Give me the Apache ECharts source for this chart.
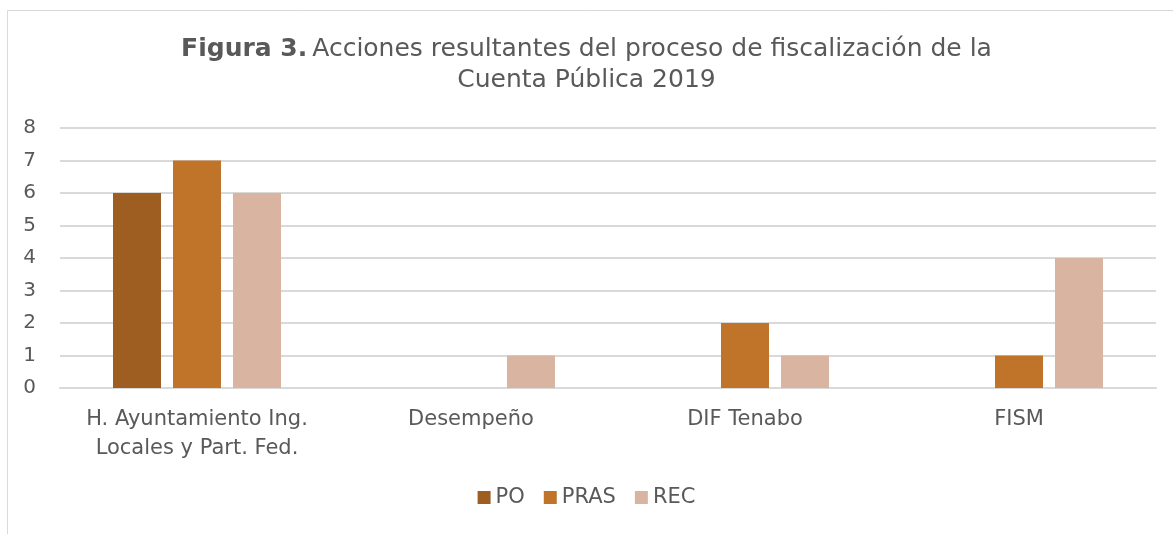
<!DOCTYPE html>
<html>
<head>
<meta charset="utf-8">
<script src="https://cdn.jsdelivr.net/npm/echarts@6/dist/echarts.min.js"></script>
<style>
    html, body { margin: 0; padding: 0; background: #fff; }
    #chart { width: 1173px; height: 534px; }
</style>
</head>
<body>
<div id="chart"></div>
<script>
    // categorías y valores
    var categorias = ['H. Ayuntamiento Ing.\nLocales y Part. Fed.', 'Desempeño', 'DIF Tenabo', 'FISM'];
    var serieNombres = ['PO', 'PRAS', 'REC'];
    var valoresPO = [6, 0, 0, 0];
    var valoresPRAS = [7, 0, 2, 1];
    var valoresREC = [6, 1, 1, 4];
    var colores = ['#9E5E21', '#C0742A', '#D9B5A1'];

    var fuente = '"DejaVu Sans", sans-serif';
    var myChart = echarts.init(document.getElementById('chart'));

    var valores = [valoresPO, valoresPRAS, valoresREC];
    var series = serieNombres.map(function (n, i) {
        return {
            name: n,
            type: 'bar',
            data: valores[i].map(function (v) { return v === 0 ? null : v; }),
            barWidth: 48,
            barGap: '25%',
            itemStyle: { color: colores[i] }
        };
    });

    myChart.setOption({
        animation: false,
        color: colores,
        graphic: [{
            type: 'rect',
            shape: { x: 7.5, y: 10.5, width: 1170, height: 540 },
            style: { fill: 'none', stroke: '#d9d9d9', lineWidth: 1 },
            silent: true
        }],
        title: {
            text: '{b|Figura 3.} {n|Acciones resultantes del proceso de fiscalización de la}\n{n|Cuenta Pública 2019}',
            left: 'center',
            top: 29,
            textStyle: {
                fontWeight: 'normal',
                rich: {
                    b: { fontFamily: fuente, fontSize: 25, fontWeight: 'bold', color: '#595959', lineHeight: 31 },
                    n: { fontFamily: fuente, fontSize: 25, fontWeight: 'normal', color: '#595959', lineHeight: 31 }
                }
            }
        },
        legend: {
            bottom: 21,
            left: 'center',
            itemWidth: 13,
            itemHeight: 13,
            itemGap: 19,
            icon: 'rect',
            textStyle: { fontFamily: fuente, fontSize: 21, color: '#595959' },
            data: serieNombres
        },
        grid: { left: 60, right: 17, top: 128, bottom: 146, containLabel: false },
        xAxis: {
            type: 'category',
            data: categorias,
            axisLine: { lineStyle: { color: '#d9d9d9', width: 2 } },
            axisTick: { show: false },
            axisLabel: { interval: 0, fontFamily: fuente, fontSize: 21, color: '#595959', margin: 17, lineHeight: 29 }
        },
        yAxis: {
            type: 'value',
            min: 0,
            max: 8,
            interval: 1,
            axisLine: { show: false },
            axisTick: { show: false },
            splitLine: { lineStyle: { color: '#d9d9d9', width: 2 } },
            axisLabel: { fontFamily: fuente, fontSize: 20, color: '#595959', margin: 24 }
        },
        series: series
    });
</script>
</body>
</html>
